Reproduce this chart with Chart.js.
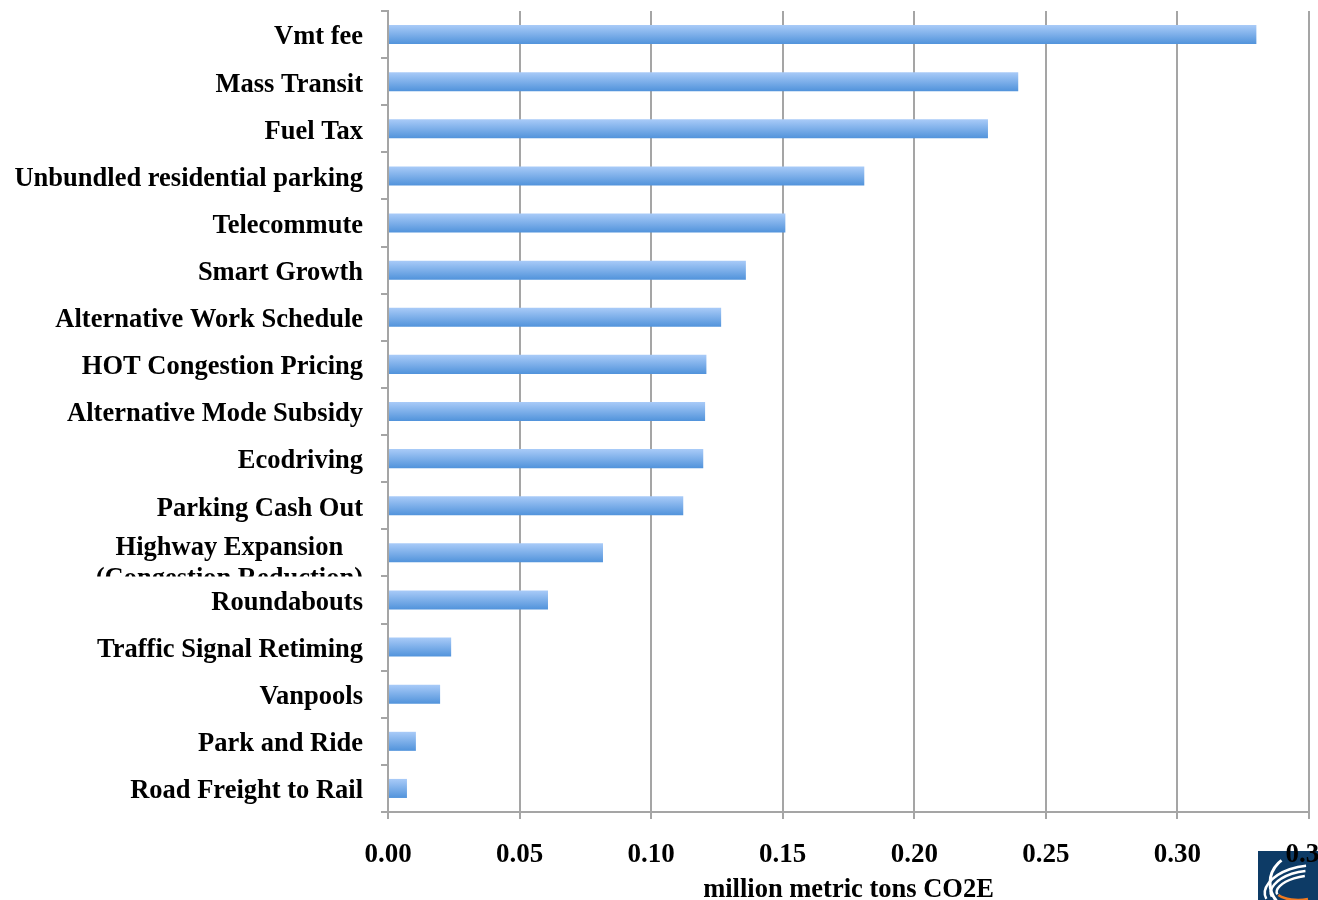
<!DOCTYPE html>
<html>
<head>
<meta charset="utf-8">
<script src="https://cdn.jsdelivr.net/npm/chart.js@4.4.1/dist/chart.umd.min.js"></script>
<style>
html,body{margin:0;padding:0;background:#fff;}
#wrap{position:relative;width:1318px;height:900px;}
</style>
</head>
<body>
<div id="wrap"><canvas id="c" width="1318" height="900"></canvas></div>
<script>
const categories = [
  "Vmt fee",
  "Mass Transit",
  "Fuel Tax",
  "Unbundled residential parking",
  "Telecommute",
  "Smart Growth",
  "Alternative Work Schedule",
  "HOT Congestion Pricing",
  "Alternative Mode Subsidy",
  "Ecodriving",
  "Parking Cash Out",
  ["Highway Expansion", "(Congestion Reduction)"],
  "Roundabouts",
  "Traffic Signal Retiming",
  "Vanpools",
  "Park and Ride",
  "Road Freight to Rail"
];
const values = [0.330, 0.2395, 0.228, 0.181, 0.151, 0.136, 0.1266, 0.121, 0.1205, 0.1198, 0.1122, 0.0817, 0.0608, 0.024, 0.0198, 0.0106, 0.0072];
const xTicks = [0, 0.05, 0.10, 0.15, 0.20, 0.25, 0.30, 0.35];
const xTitle = "million metric tons CO2E";

const FONT = "'Liberation Serif','Times New Roman',serif";
const GRID = '#a5a5a5';
const BAR_PCT = 0.404;

function barGradient(context) {
  const chart = context.chart;
  const area = chart.chartArea;
  if (!area || !chart.scales.y) return '#7aaeea';
  const y = chart.scales.y.getPixelForValue(context.dataIndex);
  const band = (area.bottom - area.top) / categories.length;
  const h = band * BAR_PCT;
  const g = chart.ctx.createLinearGradient(0, y - h / 2, 0, y + h / 2);
  g.addColorStop(0, '#a9cbf8');
  g.addColorStop(1, '#5193db');
  return g;
}

const labelPlugin = {
  id: 'yLabels',
  afterDraw(chart) {
    const ctx = chart.ctx;
    const ys = chart.scales.y;
    const area = chart.chartArea;
    const band = (area.bottom - area.top) / categories.length;
    ctx.save();
    ctx.font = "bold 26.5px " + FONT;
    ctx.fillStyle = '#000';
    ctx.textBaseline = 'middle';
    const rightX = 363;
    categories.forEach((lab, i) => {
      const cy = ys.getPixelForValue(i);
      if (Array.isArray(lab)) {
        ctx.save();
        ctx.beginPath();
        ctx.rect(0, cy - band / 2, rightX + 5, band);
        ctx.clip();
        const maxW = Math.max(...lab.map(s => ctx.measureText(s).width));
        const cx = rightX - maxW / 2;
        ctx.textAlign = 'center';
        lab.forEach((s, k) => ctx.fillText(s, cx, cy - 5 + k * 31));
        ctx.restore();
      } else {
        ctx.textAlign = 'right';
        ctx.fillText(lab, rightX, cy + 3);
      }
    });
    ctx.restore();
  }
};

const logoPlugin = {
  id: 'logo',
  beforeDraw(chart) {
    const ctx = chart.ctx;
    ctx.save();
    const x0 = 1258, y0 = 851, w = 60, h = 49;
    ctx.fillStyle = '#0d3b66';
    ctx.fillRect(x0, y0, w, h);
    ctx.beginPath();
    ctx.rect(x0, y0, w, h);
    ctx.clip();
    ctx.strokeStyle = '#ffffff';
    ctx.lineWidth = 2.5;
    const cx = x0 + 42, cy = y0 + 36;
    [[24, 10], [30, 15], [36, 20]].forEach(([rx, ry]) => {
      ctx.beginPath();
      ctx.ellipse(cx, cy, rx, ry, -0.25, Math.PI * 0.95, Math.PI * 1.6);
      ctx.stroke();
    });
    ctx.lineWidth = 3;
    ctx.beginPath();
    ctx.arc(x0 + 40, y0 + 32, 28, Math.PI * 0.75, Math.PI * 1.3);
    ctx.stroke();
    ctx.strokeStyle = '#f07a20';
    ctx.lineWidth = 2.5;
    ctx.beginPath();
    ctx.ellipse(x0 + 40, y0 + 40, 22, 9, 0, Math.PI * 0.35, Math.PI * 0.85);
    ctx.stroke();
    ctx.restore();
  }
};

new Chart(document.getElementById('c'), {
  type: 'bar',
  data: {
    labels: categories.map(l => Array.isArray(l) ? l.join(' ') : l),
    datasets: [{
      data: values,
      backgroundColor: barGradient,
      borderWidth: 0,
      categoryPercentage: 1.0,
      barPercentage: BAR_PCT
    }]
  },
  options: {
    indexAxis: 'y',
    responsive: false,
    animation: false,
    devicePixelRatio: 1,
    layout: { autoPadding: false, padding: { top: 11, left: 0, right: 9, bottom: 0 } },
    plugins: { legend: { display: false }, tooltip: { enabled: false } },
    scales: {
      x: {
        type: 'linear',
        min: 0, max: 0.35,
        afterBuildTicks(scale) { scale.ticks = xTicks.map(v => ({ value: v })); },
        afterFit(scale) { scale.height = 88; scale.paddingLeft = 0; scale.paddingRight = 0; },
        border: { display: true, color: GRID, width: 2 },
        grid: { color: GRID, lineWidth: 2, drawTicks: true, tickLength: 7 },
        ticks: {
          padding: 20,
          maxRotation: 0,
          autoSkip: false,
          color: '#000',
          font: { family: FONT, size: 27, weight: 'bold' },
          callback: v => v.toFixed(2)
        },
        title: {
          display: true,
          text: xTitle,
          color: '#000',
          font: { family: FONT, size: 26.5, weight: 'bold', lineHeight: 0.75 },
          padding: { top: 0, bottom: 0 }
        }
      },
      y: {
        type: 'category',
        offset: true,
        afterFit(scale) { scale.width = 388; scale.paddingTop = 0; scale.paddingBottom = 0; },
        border: { display: true, color: GRID, width: 2 },
        grid: { display: true, offset: true, drawOnChartArea: false, drawTicks: true, tickLength: 7, color: GRID, lineWidth: 2 },
        ticks: { display: false }
      }
    }
  },
  plugins: [logoPlugin, labelPlugin]
});
</script>
</body>
</html>
